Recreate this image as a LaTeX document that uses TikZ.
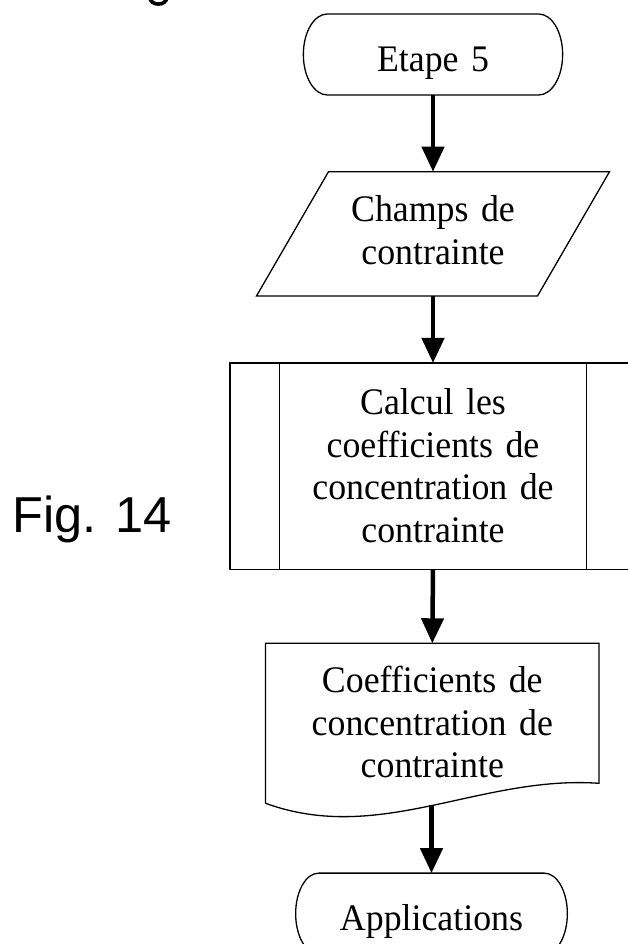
\documentclass[tikz,border=0pt]{standalone}
\usepackage{fontspec}
\setmainfont{Liberation Serif}[FakeStretch=0.955]
\newfontfamily\figfont{Liberation Sans}
\usetikzlibrary{arrows.meta}
\tikzset{
  shapebox/.style={inner sep=0pt, outer sep=0pt, text width=250pt, align=center,
    font=\fontsize{37.5pt}{42.5pt}\selectfont},
  outline/.style={line width=1.3pt, line join=miter},
  flow/.style={line width=4.5pt, -{Triangle[width=22pt,length=25pt]}}
}
\begin{document}
\begin{tikzpicture}[x=1pt,y=1pt]
\useasboundingbox (0,0) rectangle (627,944);
% fragment of the previous figure's caption at the top edge
\draw[line width=3.6pt] (149.5,947) .. controls (150.5,937.5) and (166.5,937.5) .. (167,947);
% caption
\node[inner sep=0pt, anchor=base west, font=\figfont\fontsize{50.5pt}{60pt}\selectfont] (fig) at (12,411.3) {Fig. 14};
% start terminal
\node[shapebox, minimum width=259.3pt, minimum height=81pt, text height=34.4pt, text depth=0pt] (etape) at (433,889.5) {Etape 5};
\draw[outline] ([xshift=24pt]etape.north west) -- ([xshift=-24pt]etape.north east)
  arc[start angle=90, end angle=-90, x radius=24pt, y radius=40.5pt]
  -- ([xshift=24pt]etape.south west)
  arc[start angle=270, end angle=90, x radius=24pt, y radius=40.5pt] -- cycle;
% data (parallelogram)
\node[shapebox, minimum width=281pt, minimum height=124.3pt, text height=27pt, text depth=51.3pt] (para) at (433,710.15) {Champs de\\contrainte};
\draw[outline] ([xshift=36pt]para.north west) -- ([xshift=36pt]para.north east)
  -- ([xshift=-36pt]para.south east) -- ([xshift=-36pt]para.south west) -- cycle;
% predefined process
\node[shapebox, minimum width=307pt, minimum height=206.3pt, text height=27pt, text depth=129.3pt] (proc) at (433,477.85) {Calcul les\\coefficients de\\concentration de\\contrainte};
\draw[outline] ([xshift=-49.5pt]proc.south west) rectangle ([xshift=49.5pt]proc.north east);
\draw[outline] (proc.north west) -- (proc.south west);
\draw[outline] (proc.north east) -- (proc.south east);
% document
\node[shapebox, minimum width=333.5pt, minimum height=160pt, text height=27pt, text depth=87.6pt] (doc) at (432.3,220.7) {Coefficients de\\concentration de\\contrainte};
\draw[outline] (doc.south west) -- (doc.north west) -- (doc.north east) -- ([yshift=20pt]doc.south east)
  .. controls (480,169) and (380,99) .. (doc.south west);
% end terminal
\node[shapebox, minimum width=271.7pt, minimum height=81pt, text height=34.1pt, text depth=0pt] (app) at (431.5,30.35) {Applications};
\draw[outline] ([xshift=23pt]app.north west) -- ([xshift=-23pt]app.north east)
  arc[start angle=90, end angle=-90, x radius=23pt, y radius=40.5pt]
  -- ([xshift=23pt]app.south west)
  arc[start angle=270, end angle=90, x radius=23pt, y radius=40.5pt] -- cycle;
% connectors
\draw[flow] (etape.south) -- (para.north);
\draw[flow] (para.south) -- (proc.north);
\draw[flow] (proc.south) -- (doc.north);
\draw[flow] ([yshift=-2pt]doc.south -| app.north) -- (app.north);
\end{tikzpicture}
\end{document}
